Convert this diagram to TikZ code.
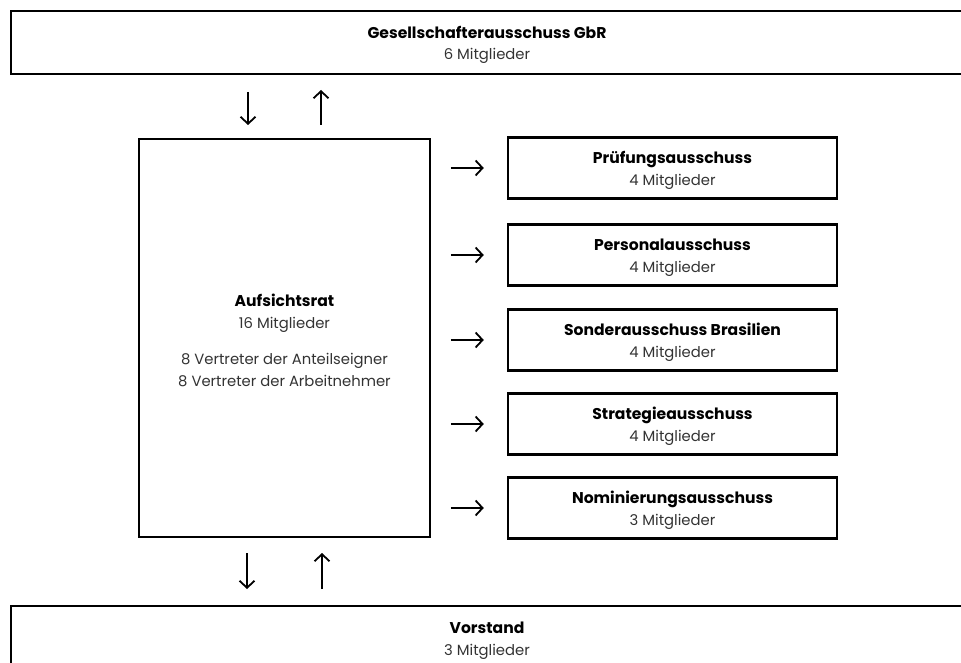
\documentclass[tikz,border=0pt]{standalone}
\usepackage{fontspec}
\setmainfont{Poppins}
\usetikzlibrary{arrows.meta,positioning}

\tikzset{
  box/.style={draw=black, line width=2.4pt, inner sep=0pt, align=center,
    font=\fontsize{14.8}{21.5}\selectfont, text=black!80},
  arr/.style={line width=1.8pt, -{Straight Barb[length=7pt,width=15pt,line width=1.8pt]}},
}
\newcommand{\ttl}[1]{{\rule{0pt}{17pt}\fontsize{15.6}{21.5}\selectfont\bfseries\color{black}#1}}

\begin{document}
\begin{tikzpicture}[x=1pt,y=-1pt]
	\useasboundingbox (0,0) rectangle (961,663);
	\clip (0,0) rectangle (961,663);

	\node[box,minimum width=952,minimum height=63] (g) at (487,42.5) {\ttl{Gesellschafterausschuss GbR}\\6 Mitglieder};
	\node[box,minimum width=291,minimum height=398] (a) at (284.5,338) {\ttl{Aufsichtsrat}\\16 Mitglieder\\[15pt]8 Vertreter der Anteilseigner\\8 Vertreter der Arbeitnehmer};
	\node[box,minimum width=952,minimum height=64] (v) at (487,638) {\ttl{Vorstand}\\3 Mitglieder};

	\node[box,minimum width=329,minimum height=61] (c1) at (672.5,168) {\ttl{Prüfungsausschuss}\\4 Mitglieder};
	\node[box,minimum width=329,minimum height=61] (c2) at (672.5,255) {\ttl{Personalausschuss}\\4 Mitglieder};
	\node[box,minimum width=329,minimum height=61] (c3) at (672.5,340) {\ttl{Sonderausschuss Brasilien}\\4 Mitglieder};
	\node[box,minimum width=329,minimum height=61] (c4) at (672.5,424) {\ttl{Strategieausschuss}\\4 Mitglieder};
	\node[box,minimum width=329,minimum height=61] (c5) at (672.5,508) {\ttl{Nominierungsausschuss}\\3 Mitglieder};

	% arrows between the boards
	\coordinate (d1) at (248,92);  \coordinate (d2) at (248,125);
	\coordinate (u1) at (321,125); \coordinate (u2) at (321,90);
	\coordinate (d3) at (247,553); \coordinate (d4) at (247,589);
	\coordinate (u3) at (322,589); \coordinate (u4) at (322,553);
	\draw[arr] (d1) -- (d2);
	\draw[arr] (u1) -- (u2);
	\draw[arr] (d3) -- (d4);
	\draw[arr] (u3) -- (u4);

	\foreach \i in {1,...,5}
		\draw[arr] ([xshift=-56]c\i.west) -- ([xshift=-23]c\i.west);
\end{tikzpicture}
\end{document}
